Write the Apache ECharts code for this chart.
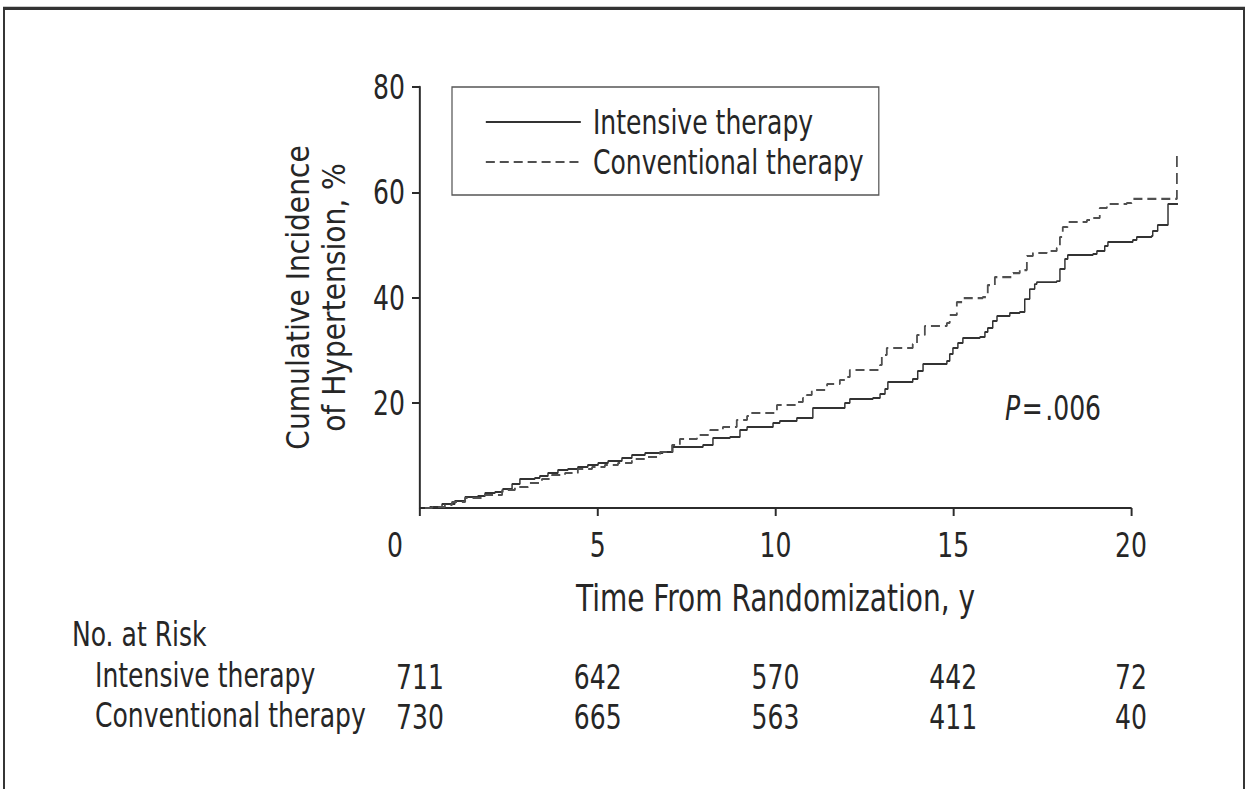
<!DOCTYPE html>
<html>
<head>
<meta charset="utf-8">
<script src="https://cdn.jsdelivr.net/npm/echarts@6/dist/echarts.min.js"></script>
<style>
html,body{margin:0;padding:0;background:#fff;overflow:hidden;width:1248px;height:789px;}
#chart{height:789px;transform-origin:0 0;}
</style>
</head>
<body>
<div id="chart"></div>
<script>
// ---- data (years, cumulative incidence %) ----
var seriesNames = ['Intensive therapy', 'Conventional therapy'];
var intensive = [
  [0.14,0],[0.28,0.19],[0.62,0.76],[0.98,1.33],[1.27,2.09],[1.63,2.28],[1.83,2.85],[2.11,3.04],
  [2.33,3.61],[2.59,4.56],[2.81,5.51],[3.23,5.70],[3.37,6.08],[3.60,6.65],[3.88,7.22],[4.16,7.41],
  [4.44,7.79],[4.72,8.17],[5.01,8.55],[5.29,8.93],[5.68,9.50],[5.96,10.07],[6.33,10.45],[6.83,10.64],
  [7.11,11.59],[7.96,11.97],[8.24,13.30],[8.72,13.49],[9.00,14.82],[9.20,15.39],[9.93,16.15],[10.12,16.53],
  [10.60,17.10],[11.05,19.00],[11.95,19.95],[12.09,20.71],[12.74,20.90],[12.94,21.66],[13.08,22.61],
  [13.16,23.94],[13.86,24.51],[14.00,26.03],[14.15,27.36],[14.82,27.93],[14.90,29.26],[14.99,30.40],
  [15.13,31.35],[15.27,32.30],[15.75,32.49],[15.89,33.44],[15.97,34.20],[16.11,35.53],[16.23,36.48],
  [16.59,37.05],[16.87,37.24],[17.01,39.71],[17.15,41.61],[17.29,42.56],[17.35,42.94],[17.91,43.13],
  [18.00,45.42],[18.14,47.32],[18.22,48.08],[18.93,48.27],[19.04,48.84],[19.26,49.79],[19.35,50.55],
  [20.05,50.93],[20.16,51.50],[20.58,51.69],[20.61,52.64],[20.75,53.78],[21.04,57.77],[21.32,57.77]
];
var conventional = [
  [0.14,0],[0.34,0.19],[0.70,0.57],[0.90,1.14],[1.27,1.90],[1.74,2.47],[2.31,3.42],[2.67,3.99],
  [3.04,4.75],[3.43,5.51],[3.71,6.27],[4.08,6.65],[4.44,7.41],[4.84,7.79],[5.20,8.17],[5.57,8.55],
  [5.96,9.31],[6.33,9.69],[6.75,10.64],[7.09,11.97],[7.31,13.11],[7.79,13.87],[8.16,14.82],[8.52,15.39],
  [8.91,16.72],[9.20,17.48],[9.28,18.05],[10.04,19.57],[10.60,20.14],[10.77,20.90],[10.88,21.47],
  [11.02,22.42],[11.45,23.56],[11.81,24.32],[11.95,24.89],[12.09,26.22],[12.94,27.17],[12.99,29.07],
  [13.13,30.40],[13.86,31.16],[13.98,32.87],[14.20,34.58],[14.82,35.15],[14.90,36.67],[15.10,39.14],
  [15.27,39.90],[15.83,40.09],[15.97,42.37],[16.17,43.89],[16.68,44.65],[16.87,45.22],[17.07,47.89],
  [17.24,48.46],[17.63,48.84],[17.91,49.41],[18.00,51.50],[18.08,53.40],[18.22,54.35],[18.76,54.73],
  [18.93,55.11],[19.12,57.01],[19.32,57.77],[19.88,57.96],[20.02,58.73],[21.29,68.05]
];
var xTicks = [0, 5, 10, 15, 20];
var yTicks = [0, 20, 40, 60, 80];
var riskIntensive = [711, 642, 570, 442, 72];
var riskConventional = [730, 665, 563, 411, 40];
var riskTitle = 'No. at Risk';
var xTitle = 'Time From Randomization, y';
var yTitle = 'Cumulative Incidence\nof Hypertension, %';
var pText = '.006';

// ---- layout ----
// The reference uses a condensed typeface; none is installed, so the whole
// drawing is laid out wider and compressed horizontally by S.
var S = 0.82;
function X(px) { return px / S; }
var W = 1248, H = 789;
var el = document.getElementById('chart');
el.style.width = X(W) + 'px';
el.style.transform = 'scaleX(' + S + ')';

var FONT = "'DejaVu Sans Condensed', 'Liberation Sans', sans-serif";
var TXT = '#262626';
var AX = '#2b2b2b';
var PLOT_L = 420, PLOT_R = 1131, PLOT_T = 87, PLOT_B = 508;
var pxPerYear = (PLOT_R - PLOT_L) / (xTicks[xTicks.length - 1] - xTicks[0]);
var dataMaxX = 22;
var chart = echarts.init(el, null, {renderer: 'svg'});

function riskAxis(values, offset) {
  return {
    type: 'value', gridIndex: 0, position: 'bottom', offset: offset,
    min: xTicks[0], max: xTicks[xTicks.length - 1], interval: 5,
    axisLine: {show: false}, axisTick: {show: false}, splitLine: {show: false},
    axisLabel: {
      show: true, margin: 0, verticalAlign: 'middle',
      fontFamily: FONT, fontSize: 34, color: TXT, lineHeight: 34,
      formatter: function (v) { var i = xTicks.indexOf(v); return i >= 0 ? String(values[i]) : ''; }
    }
  };
}

var option = {
  animation: false,
  backgroundColor: '#fff',
  grid: [
    {left: X(PLOT_L), right: X(W - PLOT_R), top: PLOT_T, bottom: H - PLOT_B, containLabel: false},
    {left: X(PLOT_L), right: X(W - PLOT_L - pxPerYear * dataMaxX), top: PLOT_T, bottom: H - PLOT_B, containLabel: false}
  ],
  legend: {
    show: true, orient: 'vertical', left: X(452), top: 87,
    data: seriesNames,
    itemWidth: X(95), itemHeight: 24, itemGap: 6,
    padding: [18, X(15), 16, X(33)],
    borderColor: '#555', borderWidth: 1.5,
    itemStyle: {color: 'rgba(0,0,0,0)', borderWidth: 0, opacity: 0},
    textStyle: {fontFamily: FONT, fontSize: 34, color: TXT, lineHeight: 34, padding: [0, 0, 0, X(8)]},
    selectedMode: false
  },
  xAxis: [
    {
      type: 'value', min: 0, max: 20, interval: 5, gridIndex: 0,
      name: xTitle, nameLocation: 'middle', nameGap: 71,
      nameTextStyle: {fontFamily: FONT, fontSize: 38, color: TXT, lineHeight: 38},
      axisLine: {show: true, onZero: true, lineStyle: {color: AX, width: 2}},
      axisTick: {show: true, length: 8, inside: false, lineStyle: {color: AX, width: 2.4}},
      splitLine: {show: false},
      axisLabel: {
        margin: 20, fontFamily: FONT, fontSize: 34, color: TXT, lineHeight: 34,
        formatter: function (v) { return v === 0 ? '{z|0}' : String(v); },
        rich: {z: {fontFamily: FONT, fontSize: 34, color: TXT, lineHeight: 34, padding: [0, X(50), 0, 0]}}
      }
    },
    riskAxis(riskIntensive, 169),
    riskAxis(riskConventional, 209),
    {
      type: 'value', gridIndex: 1, min: 0, max: dataMaxX, show: false,
      axisLine: {show: false}, axisTick: {show: false}, axisLabel: {show: false}, splitLine: {show: false}
    }
  ],
  yAxis: [
    {
      type: 'value', gridIndex: 0, min: 0, max: 80, interval: 20,
      axisLine: {show: true, lineStyle: {color: AX, width: 2.4}},
      axisTick: {show: true, length: X(8), inside: false, lineStyle: {color: AX, width: 2}},
      splitLine: {show: false},
      axisLabel: {margin: X(15), fontFamily: FONT, fontSize: 34, color: TXT, showMinLabel: false}
    },
    {
      type: 'value', gridIndex: 1, min: 0, max: 80, show: false,
      axisLine: {show: false}, axisTick: {show: false}, axisLabel: {show: false}, splitLine: {show: false}
    }
  ],
  series: [
    {
      name: seriesNames[0], type: 'line', step: 'end', data: intensive,
      xAxisIndex: 3, yAxisIndex: 1,
      symbol: 'none', showSymbol: false,
      lineStyle: {color: '#333', width: 1.8, type: 'solid'},
      itemStyle: {color: '#333'}
    },
    {
      name: seriesNames[1], type: 'line', step: 'end', data: conventional,
      xAxisIndex: 3, yAxisIndex: 1,
      symbol: 'none', showSymbol: false,
      lineStyle: {color: '#505050', width: 2.2, type: [11, 6]},
      itemStyle: {color: '#505050'}
    }
  ],
  graphic: [
    {type: 'rect', shape: {x: X(4), y: 8, width: X(1240), height: 820}, silent: true,
     style: {fill: 'none', stroke: '#333', lineWidth: 2.4}},
    {type: 'line', shape: {x1: X(3), y1: 8.5, x2: X(1245), y2: 8.5}, silent: true,
     style: {stroke: '#333', lineWidth: 3}},
    {type: 'text', x: X(316), y: (PLOT_T + PLOT_B) / 2, rotation: Math.PI / 2,
     scaleX: 0.845, scaleY: 1.04, silent: true,
     style: {text: yTitle, fontFamily: FONT, fontSize: 37, lineHeight: 43, fill: TXT,
             align: 'center', verticalAlign: 'middle'}},
    {type: 'text', left: X(72), top: 617, silent: true,
     style: {text: riskTitle, font: '34px ' + FONT, fill: TXT}},
    {type: 'text', left: X(95), top: 658, silent: true,
     style: {text: seriesNames[0], font: '34px ' + FONT, fill: TXT}},
    {type: 'text', left: X(95), top: 698, silent: true,
     style: {text: seriesNames[1], font: '34px ' + FONT, fill: TXT}},
    {type: 'text', left: X(1005), top: 391, silent: true,
     style: {
       text: '{p|P}{e|=}{v|' + pText + '}',
       rich: {
         p: {fontFamily: FONT, fontSize: 34, fontStyle: 'italic', fill: TXT, padding: [0, 2, 0, 0]},
         e: {fontFamily: FONT, fontSize: 34, fill: TXT, padding: [0, 3, 0, 0]},
         v: {fontFamily: FONT, fontSize: 34, fill: TXT}
       }
     }}
  ]
};
chart.setOption(option);
</script>
</body>
</html>
